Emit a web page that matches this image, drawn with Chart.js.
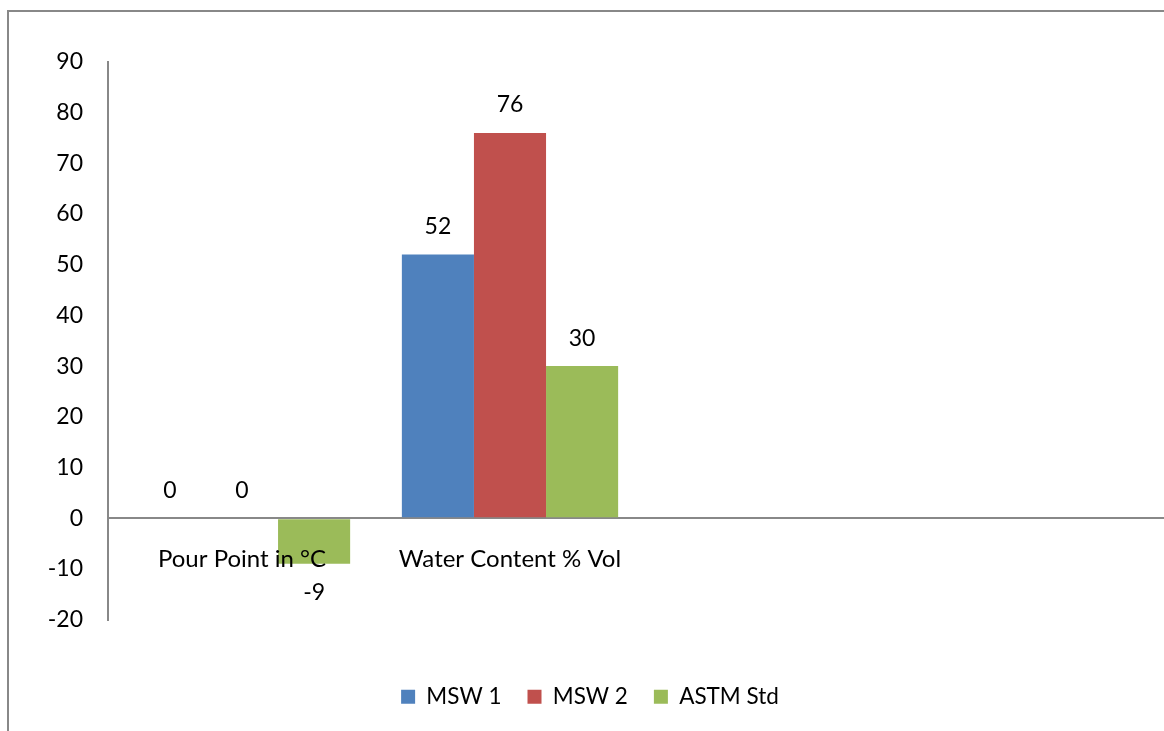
<!DOCTYPE html>
<html>
<head>
<meta charset="utf-8">
<script src="https://cdn.jsdelivr.net/npm/chart.js@4/dist/chart.umd.min.js"></script>
<style>
  html, body { margin: 0; padding: 0; background: #fff; overflow: hidden; }
  #wrap { width: 1180px; height: 731px; }
</style>
</head>
<body>
<div id="wrap"><canvas id="myChart"></canvas></div>
<script>
let categories = ['Pour Point in °C', 'Water Content % Vol', '', ''];
let msw1 = [0, 52, null, null];
let msw2 = [0, 76, null, null];
let astm = [-9, 30, null, null];
let yTicks = [-20, 90, 10];

let font = "Lato, 'Liberation Sans', sans-serif";

// grey frame round the chart (only top and left edges fall inside the picture)
let framePlugin = {
  id: 'frame',
  beforeDraw(chart) {
    let ctx = chart.ctx;
    ctx.save();
    ctx.strokeStyle = '#888888';
    ctx.lineWidth = 2;
    ctx.beginPath();
    ctx.moveTo(8, chart.height + 5);
    ctx.lineTo(8, 11);
    ctx.lineTo(chart.width + 5, 11);
    ctx.stroke();
    ctx.restore();
  }
};

// value labels above / below bars and category labels next to the zero line
let labelPlugin = {
  id: 'labels',
  afterDatasetsDraw(chart) {
    let ctx = chart.ctx;
    let y = chart.scales.y, x = chart.scales.x;
    ctx.save();
    ctx.fillStyle = '#000';
    ctx.textAlign = 'center';
    ctx.textBaseline = 'middle';
    ctx.font = '23px ' + font;
    chart.data.datasets.forEach((ds, i) => {
      chart.getDatasetMeta(i).data.forEach((bar, j) => {
        let v = ds.data[j];
        if (v === null) return;
        let ty = v >= 0 ? bar.y - 28 : bar.y + 29;
        ctx.fillText(String(v), bar.x, ty);
      });
    });
    ctx.font = '24px ' + font;
    let zero = y.getPixelForValue(0);
    categories.forEach((c, i) => {
      if (c) ctx.fillText(c, x.getPixelForValue(i), zero + 41);
    });
    ctx.restore();
  }
};

let chart = new Chart(document.getElementById('myChart'), {
  type: 'bar',
  data: {
    labels: categories,
    datasets: [
      {label: 'MSW 1', data: msw1, backgroundColor: '#4F81BD'},
      {label: 'MSW 2', data: msw2, backgroundColor: '#C0504D'},
      {label: 'ASTM Std', data: astm, backgroundColor: '#9BBB59'}
    ]
  },
  options: {
    responsive: true,
    maintainAspectRatio: false,
    animation: false,
    layout: {padding: {top: 62, right: 0, left: 0, bottom: 13}},
    categoryPercentage: 0.807,
    barPercentage: 1.0,
    scales: {
      x: {
        ticks: {display: false},
        grid: {display: false},
        border: {display: false},
        afterFit: s => { s.height = 40; }
      },
      y: {
        min: yTicks[0],
        max: yTicks[1],
        ticks: {
          stepSize: yTicks[2],
          color: '#000',
          padding: 25,
          font: {family: font, size: 23}
        },
        border: {display: true, color: '#888888', width: 2},
        grid: {
          drawTicks: false,
          lineWidth: 2,
          color: c => c.tick && c.tick.value === 0 ? '#888888' : 'rgba(0,0,0,0)'
        },
        afterFit: s => { s.width = 108; }
      }
    },
    plugins: {
      legend: {
        position: 'bottom',
        labels: {
          boxWidth: 14,
          boxHeight: 14,
          padding: 26,
          color: '#000',
          font: {family: font, size: 22.5}
        }
      },
      tooltip: {enabled: false}
    }
  },
  plugins: [framePlugin, labelPlugin]
});
</script>
</body>
</html>
